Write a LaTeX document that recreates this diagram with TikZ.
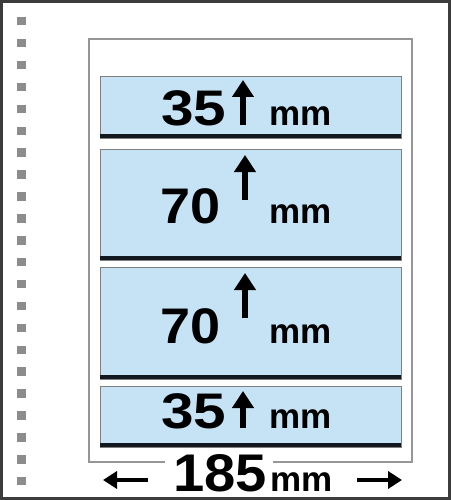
\documentclass[tikz,border=0pt]{standalone}
\usepackage{fontspec}
\setmainfont{Liberation Sans}
\usetikzlibrary{arrows.meta}
\definecolor{stripblue}{RGB}{197,227,245}
\definecolor{framegray}{RGB}{60,60,60}
\definecolor{sheetgray}{RGB}{150,150,150}
\definecolor{holegray}{RGB}{140,140,140}
\definecolor{edgedark}{RGB}{18,24,32}
\newcommand{\bignum}[2]{\fontsize{50}{50}\selectfont\bfseries\scalebox{#1}[1]{#2}}
\newcommand{\unitmm}[1]{\fontsize{#1}{#1}\selectfont\bfseries mm}
\begin{document}
\begin{tikzpicture}[x=1pt,y=-1pt,
  hole/.style={fill=holegray},
  strip/.style={fill=stripblue,draw=sheetgray!85!black,line width=1pt},
  stripedge/.style={draw=edgedark,line width=4pt},
  txt/.style={inner sep=0pt,anchor=base,text=black,text depth=0pt},
  uparrow/.style={line width=5.5pt,-{Triangle[width=21pt,length=17pt]}},
  sidearrow/.style={line width=4.5pt,-{Triangle[width=17pt,length=14pt]}}]
\useasboundingbox (0,0) rectangle (451,500);
\fill[white] (0,0) rectangle (451,500);
% outer frame
\draw[framegray,line width=3.2pt] (1.6,1.6) rectangle (449.2,498.4);
% punch holes
\foreach \i in {0,...,21}{
  \fill[hole] (17,{17+21.9*\i}) rectangle (25.5,{25.5+21.9*\i});
}
% sheet outline with gap
\coordinate (gl) at (165,461.5);
\coordinate (gr) at (273,461.5);
\draw[sheetgray,line width=2pt] (gl) -| (89,39) -| (412,461.5) -- (gr);
% strips
\draw[strip] (100,77) rectangle (401,138);
\draw[stripedge] (100,136) -- (401,136);
\draw[strip] (100,149) rectangle (401,260);
\draw[stripedge] (100,258) -- (401,258);
\draw[strip] (100,267) rectangle (401,379);
\draw[stripedge] (100,377) -- (401,377);
\draw[strip] (100,386) rectangle (401,447);
\draw[stripedge] (100,445) -- (401,445);
% labels
\node[txt] (n1) at (194,125) {\bignum{1.17}{35}};
\node[txt] (m1) at (301,125) {\unitmm{35}};
\node[txt] (n2) at (190.5,223) {\bignum{1.08}{70}};
\node[txt] (m2) at (301,223) {\unitmm{35}};
\node[txt] (n3) at (190.5,343) {\bignum{1.08}{70}};
\node[txt] (m3) at (301,343) {\unitmm{35}};
\node[txt] (n4) at (194,428) {\bignum{1.17}{35}};
\node[txt] (m4) at (301,428) {\unitmm{35}};
\node[txt] (w) at (220,491.5) {\fontsize{53}{53}\selectfont\bfseries\scalebox{1.06}[1]{185}};
\node[txt] (wm) at (302,491.5) {\unitmm{35}};
% height arrows
\coordinate (a1b) at (243,125); \coordinate (a1t) at (243,80);
\coordinate (a2b) at (245,200); \coordinate (a2t) at (245,155);
\coordinate (a3b) at (245,318); \coordinate (a3t) at (245,273);
\coordinate (a4b) at (243,428); \coordinate (a4t) at (243,391);
\draw[uparrow] (a1b) -- (a1t);
\draw[uparrow] (a2b) -- (a2t);
\draw[uparrow] (a3b) -- (a3t);
\draw[uparrow] (a4b) -- (a4t);
% width arrows
\coordinate (l1) at (148,480); \coordinate (l0) at (103,480);
\coordinate (r1) at (357,480); \coordinate (r0) at (402,480);
\draw[sidearrow] (l1) -- (l0);
\draw[sidearrow] (r1) -- (r0);
\end{tikzpicture}
\end{document}
